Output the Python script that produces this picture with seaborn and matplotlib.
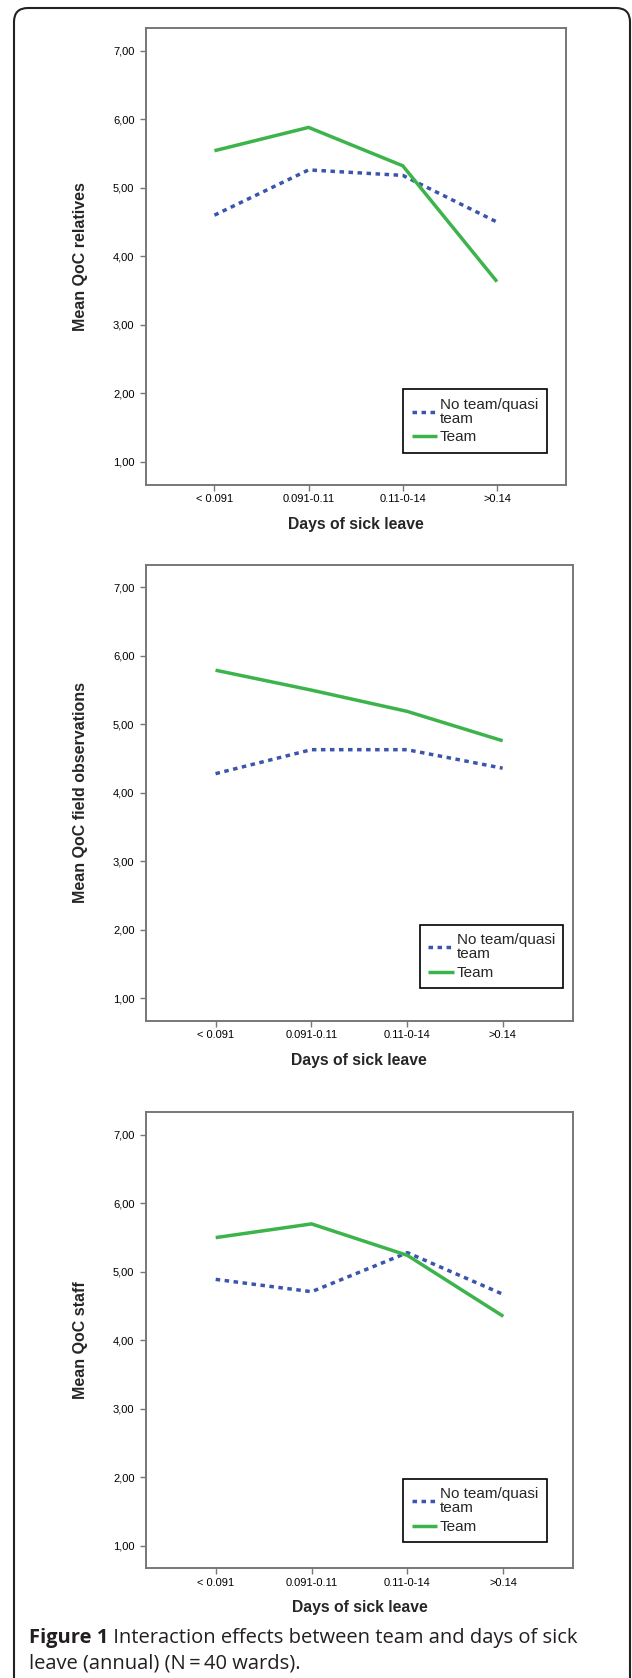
import numpy as np
import pandas as pd
import seaborn as sns
import matplotlib.pyplot as plt
from matplotlib.patches import FancyBboxPatch

# ---------------- data ----------------
categories = ["< 0.091", "0.091-0.11", "0.11-0-14", ">0.14"]
groups = ["No team/quasi\nteam", "Team"]

relatives_noteam = [4.60, 5.26, 5.18, 4.50]
relatives_team = [5.54, 5.88, 5.32, 3.63]
field_noteam = [4.28, 4.63, 4.63, 4.36]
field_team = [5.79, 5.50, 5.19, 4.76]
staff_noteam = [4.89, 4.71, 5.28, 4.67]
staff_team = [5.50, 5.70, 5.24, 4.35]

ylabels = ["Mean QoC relatives", "Mean QoC field observations", "Mean QoC staff"]
xlabel = "Days of sick leave"
yticks = [1, 2, 3, 4, 5, 6, 7]
caption_bold = "Figure 1"
caption_rest = " Interaction effects between team and days of sick"
caption_line2 = "leave (annual) (N\u2009=\u200940 wards)."

# ---------------- style ----------------
sns.set_style("white")
plt.rcParams["font.family"] = ["Liberation Sans", "DejaVu Sans"]

BLUE = "#3A55AB"
GREEN = "#3CB44B"
SPINE = "#777777"

W, H = 632, 1678
fig = plt.figure(figsize=(W / 100, H / 100), dpi=100)

# panel boxes in pixels: (left, top, right, bottom)
boxes = [
    (145.7, 28.0, 565.7, 484.6),
    (145.7, 564.7, 572.5, 1021.0),
    (145.7, 1112.3, 573.3, 1568.3),
]
# legend lower-right corners in pixels
legend_corners = [(546.7, 452.7), (563.3, 988.3), (546.7, 1542.3)]

series = [
    (relatives_noteam, relatives_team),
    (field_noteam, field_team),
    (staff_noteam, staff_team),
]

for i, ((l, t, r, b), (nt, tm)) in enumerate(zip(boxes, series)):
    ax = fig.add_axes([l / W, 1 - b / H, (r - l) / W, (b - t) / H])
    df = pd.DataFrame({
        "x": list(range(len(categories))) * 2,
        "value": list(nt) + list(tm),
        "group": [groups[0]] * len(categories) + [groups[1]] * len(categories),
    })
    sns.lineplot(
        data=df, x="x", y="value", hue="group", style="group",
        hue_order=groups, style_order=groups,
        palette={groups[0]: BLUE, groups[1]: GREEN},
        dashes={groups[0]: (1.3, 1.3), groups[1]: ""},
        linewidth=2.5, legend=False, ax=ax, sort=False,
    )
    for ln in ax.lines:
        ln.set_dash_capstyle("butt")
        ln.set_solid_capstyle("butt")
        ln.set_solid_joinstyle("miter")

    ax.set_xlim(-0.73, 3.73)
    ax.set_ylim(0.67, 7.33)
    ax.set_xticks(range(len(categories)))
    ax.set_xticklabels(categories)
    ax.set_yticks(yticks)
    ax.set_yticklabels([f"{v:.2f}".replace(".", ",") for v in yticks])
    ax.tick_params(axis="both", direction="out", length=4.3, width=1.0,
                   color=SPINE, labelsize=8, labelcolor="black")
    ax.tick_params(axis="y", pad=3.8)
    ax.tick_params(axis="x", pad=2.5)
    ax.tick_params(bottom=True, left=True)
    for s in ax.spines.values():
        s.set_visible(True)
        s.set_color(SPINE)
        s.set_linewidth(1.4)

    wpx, hpx = r - l, b - t
    ax.set_ylabel(ylabels[i], fontsize=11.5, fontweight="bold", va="center")
    ax.yaxis.set_label_coords((80.7 - l) / wpx, 0.5)
    ax.set_xlabel(xlabel, fontsize=11.3, fontweight="bold", va="center")
    ax.xaxis.set_label_coords(0.5, -39.4 / hpx)

    cx, cy = legend_corners[i]
    leg = ax.legend(
        handles=ax.lines[:2], labels=groups,
        loc="lower right", bbox_to_anchor=(cx / W, 1 - cy / H),
        bbox_transform=fig.transFigure, borderaxespad=0,
        fontsize=11, frameon=True, fancybox=False, framealpha=1,
        edgecolor="black", handlelength=1.65, handletextpad=0.2,
        labelspacing=0.3, borderpad=0.55,
    )
    leg.get_frame().set_linewidth(1.2)
    for txt in leg.get_texts():
        txt.set_linespacing(1.0)

# ---------------- outer rounded border ----------------
border = FancyBboxPatch((14, -40), 616, 1670 + 40,
                        boxstyle="round,pad=0,rounding_size=14",
                        transform=None, fill=False, edgecolor="#222222",
                        linewidth=1.5)
fig.add_artist(border)

# ---------------- caption ----------------
fig.canvas.draw()
renderer = fig.canvas.get_renderer()
cap_family = ["Open Sans", "DejaVu Sans"]
s0 = 10
tb = fig.text(0, 0, caption_bold, fontsize=s0, fontweight="bold", family=cap_family)
tr = fig.text(0, 0, caption_rest, fontsize=s0, family=cap_family)
w_total = tb.get_window_extent(renderer).width + tr.get_window_extent(renderer).width
tb.remove()
tr.remove()
size = s0 * 548.0 / w_total

x0 = 29.0
y1 = 1638.0
y2 = 1663.0
t1 = fig.text(x0 / W, 1 - y1 / H, caption_bold, fontsize=size, fontweight="bold",
              family=cap_family, va="center", ha="left", color="#231F20")
fig.canvas.draw()
w1 = t1.get_window_extent(renderer).width
fig.text((x0 + w1) / W, 1 - y1 / H, caption_rest, fontsize=size,
         family=cap_family, va="center", ha="left", color="#231F20")
fig.text(x0 / W, 1 - y2 / H, caption_line2, fontsize=size,
         family=cap_family, va="center", ha="left", color="#231F20")

fig.savefig("out.png", dpi=100)
